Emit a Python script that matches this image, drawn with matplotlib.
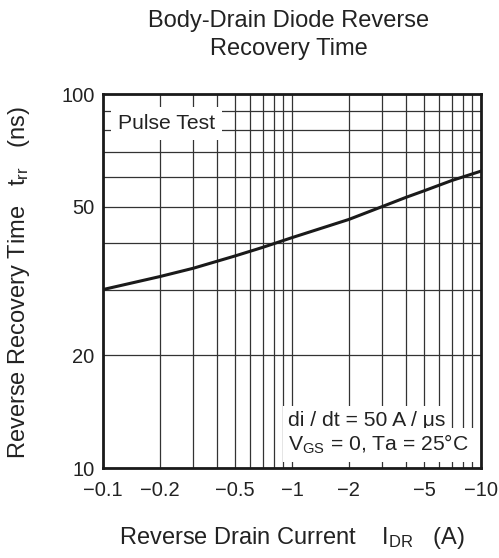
import matplotlib.pyplot as plt
from matplotlib.ticker import FixedLocator, NullFormatter, NullLocator

plt.rcParams["font.family"] = ["Liberation Sans", "DejaVu Sans"]

# reverse drain current |I_DR| (A) and trr (ns)
current = [0.1, 0.2, 0.3, 0.5, 0.7, 1.0, 2.0, 3.0, 4.0, 5.0, 7.0, 10.0]
trr = [30.0, 32.5, 34.2, 36.9, 38.9, 41.3, 46.2, 50.0, 52.9, 55.1, 58.7, 62.2]

x_ticks = [0.1, 0.2, 0.5, 1, 2, 5, 10]
x_labels = ["\u22120.1", "\u22120.2", "\u22120.5", "\u22121", "\u22122", "\u22125", "\u221210"]
y_ticks = [10, 20, 50, 100]
y_labels = ["10", "20", "50", "100"]

x_grid = [0.1 * k for k in range(1, 10)] + [1.0 * k for k in range(1, 11)]
y_grid = [10.0 * k for k in range(1, 11)]

TXT = "#222222"


def main():
    fig = plt.figure(figsize=(4.99, 5.58), dpi=100)
    ax = fig.add_axes([103 / 499, 1 - 468 / 558, 378 / 499, 374 / 558])

    ax.set_xscale("log")
    ax.set_yscale("log")
    ax.set_xlim(0.1, 10)
    ax.set_ylim(10, 100)

    for xv in x_grid:
        ax.axvline(xv, color="#333333", lw=0.9, zorder=1)
    for yv in y_grid:
        ax.axhline(yv, color="#333333", lw=0.9, zorder=1)

    ax.plot(current, trr, color="#1a1a1a", lw=2.2, zorder=3)

    ax.xaxis.set_major_locator(FixedLocator(x_ticks))
    ax.xaxis.set_minor_locator(NullLocator())
    ax.set_xticklabels(x_labels)
    ax.yaxis.set_major_locator(FixedLocator(y_ticks))
    ax.yaxis.set_minor_locator(NullLocator())
    ax.yaxis.set_minor_formatter(NullFormatter())
    ax.set_yticklabels(y_labels)
    ax.tick_params(axis="x", length=0, pad=9, labelsize=14.5, colors=TXT)
    ax.tick_params(axis="y", length=0, pad=6, labelsize=14.5, colors=TXT)

    for sp in ax.spines.values():
        sp.set_linewidth(2.0)
        sp.set_color("#1a1a1a")
        sp.set_zorder(5)

    # white patches behind the in-plot notes
    ax.text(0.12, 83.5, "Pulse Test", fontsize=15.2, color=TXT,
            va="center", ha="left", zorder=4,
            bbox=dict(facecolor="white", edgecolor="none", pad=5))

    ax.text(0.490, 0.127, "di / dt = 50 A / \u03bcs", transform=ax.transAxes,
            fontsize=15.2, color=TXT, va="center", ha="left", zorder=4,
            bbox=dict(facecolor="white", edgecolor="none", pad=4))
    ax.text(0.490, 0.062, "$\\mathregular{V_{GS}}$ = 0, Ta = 25\u00b0C", transform=ax.transAxes,
            fontsize=15.2, color=TXT, va="center", ha="left", zorder=4,
            bbox=dict(facecolor="white", edgecolor="none", pad=4))

    fig.text(0.578, 0.963, "Body-Drain Diode Reverse", fontsize=17, ha="center", va="center", color=TXT)
    fig.text(0.578, 0.913, "Recovery Time", fontsize=17, ha="center", va="center", color=TXT)

    fig.text(0.585, 0.036, "Reverse Drain Current    $\\mathregular{I_{DR}}$   (A)", fontsize=17,
             ha="center", va="center", color=TXT)
    fig.text(0.038, 0.493, "Reverse Recovery Time   $\\mathregular{t_{rr}}$   (ns)", fontsize=17,
             ha="center", va="center", rotation=90, color=TXT)

    fig.savefig("out.png", dpi=100)


if __name__ == "__main__":
    main()
